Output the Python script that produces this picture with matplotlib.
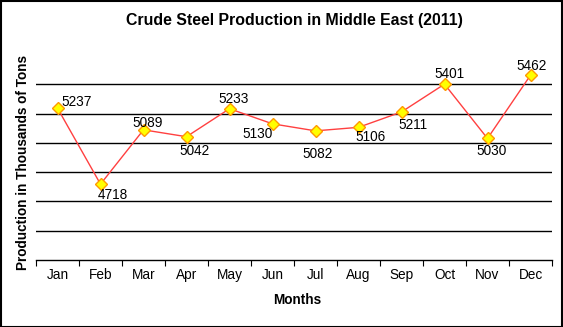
import matplotlib
matplotlib.use("Agg")
import matplotlib.pyplot as plt
from matplotlib.patches import Rectangle

plt.rcParams['font.family'] = ['Liberation Sans', 'DejaVu Sans']

months = ["Jan", "Feb", "Mar", "Apr", "May", "Jun", "Jul", "Aug", "Sep", "Oct", "Nov", "Dec"]
production = [5237, 4718, 5089, 5042, 5233, 5130, 5082, 5106, 5211, 5401, 5030, 5462]
label_offsets = [(19, 6), (12, -11), (4, 7), (8, -14), (4, 10), (-15, -10),
                 (2, -23), (12, -10), (11, -13), (5, 10), (4, -13), (1, 9)]
gridlines = [4400, 4600, 4800, 5000, 5200, 5400]

W, H = 563, 327
fig = plt.figure(figsize=(W / 100, H / 100), dpi=100)
fig.patch.set_facecolor('white')
fig.patches.append(Rectangle((0.5 / W, 0.5 / H), (W - 1.5) / W, (H - 1.5) / H,
                             transform=fig.transFigure, fill=False,
                             edgecolor='black', linewidth=1.5))

ax = fig.add_axes([36 / W, (H - 260) / H, (552 - 36) / W, (260 - 55) / H])
x = list(range(len(months)))
ax.set_xlim(-0.5, len(months) - 0.5)
ax.set_ylim(4200, 5600)
for g in gridlines:
    ax.axhline(g, color='black', linewidth=1.0, zorder=1)

ax.plot(x, production, color='#FF4040', linewidth=1.0, marker='D', markersize=6.5,
        markerfacecolor='#FFFF00', markeredgecolor='#FF9900', markeredgewidth=1.0, zorder=3)

for xi, v, (dx, dy) in zip(x, production, label_offsets):
    ax.annotate(str(v), (xi, v), xytext=(dx, dy), textcoords='offset pixels',
                ha='center', va='center', fontsize=9.8, color='black')

for s in ['left', 'top', 'right']:
    ax.spines[s].set_visible(False)
ax.spines['bottom'].set_color('black')
ax.spines['bottom'].set_linewidth(1.0)

ax.set_yticks([])
ax.set_xticks([i - 0.5 for i in range(len(months) + 1)], minor=False)
ax.set_xticklabels([])
ax.set_xticks(x, minor=True)
ax.set_xticklabels(months, minor=True, fontsize=9.8)
ax.tick_params(axis='x', which='major', length=4, direction='out', color='black')
ax.tick_params(axis='x', which='minor', length=0, pad=6)

fig.text(294 / W, 1 - 20 / H, "Crude Steel Production in Middle East (2011)",
         ha='center', va='center', fontsize=11.4, fontweight='bold')
fig.text(297 / W, 1 - 300 / H, "Months", ha='center', va='center',
         fontsize=9.8, fontweight='bold')
fig.text(23 / W, 1 - 162 / H, "Production in Thousands of Tons", ha='center', va='center',
         rotation=90, fontsize=9.8, fontweight='bold')

fig.savefig("out.png", dpi=100)
